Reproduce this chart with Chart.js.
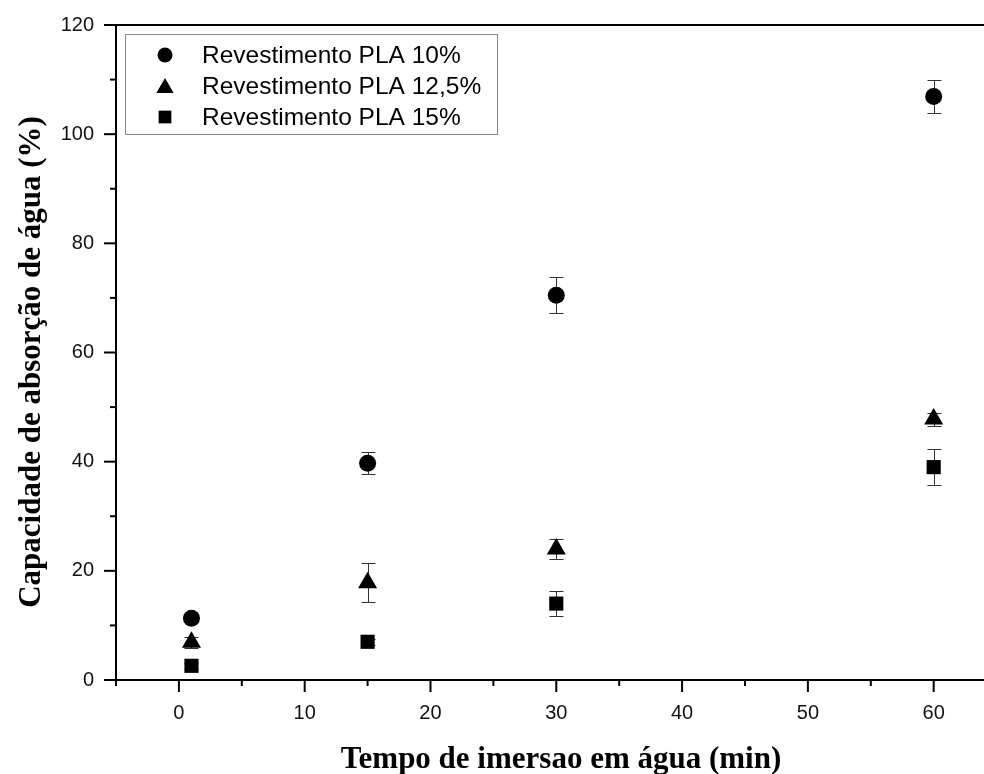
<!DOCTYPE html>
<html>
<head>
<meta charset="utf-8">
<title>Capacidade de absorção de água</title>
<script src="https://cdn.jsdelivr.net/npm/chart.js"></script>
<style>
  html, body { margin: 0; padding: 0; background: #fff; overflow: hidden; }
  canvas { display: block; }
</style>
</head>
<body>
<canvas id="absorcaoChart" width="984" height="774"></canvas>
<script>
// tempos de imersão (min)
const tempos = [1, 15, 30, 60];

const pla10 = [11.3, 39.7, 70.5, 106.9];
const pla10Err = [0.5, 2.0, 3.3, 3.0];

const pla125 = [6.9, 17.8, 24.0, 47.8];
const pla125Err = [1.0, 3.6, 1.8, 1.2];

const pla15 = [2.6, 7.0, 14.0, 39.0];
const pla15Err = [0.5, 0.6, 2.3, 3.3];

const seriesLabels = ["Revestimento PLA 10%", "Revestimento PLA 12,5%", "Revestimento PLA 15%"];

const xTicks = [-5, 0, 5, 10, 15, 20, 25, 30, 35, 40, 45, 50, 55, 60];
const yTicks = [0, 10, 20, 30, 40, 50, 60, 70, 80, 90, 100, 110, 120];

const xTitle = "Tempo de imersao em água (min)";
const yTitle = "Capacidade de absorção de água (%)";

const SERIF = "bold 31px 'Liberation Serif', 'Times New Roman', serif";
const SANS = "'Liberation Sans', Arial, sans-serif";

function el(id) {
  return document.getElementById(id);
}

function toPoints(xs, ys) {
  return xs.map((x, i) => ({ x: x, y: ys[i] }));
}

// barras de erro com traço nas pontas
const errorBars = {
  id: "errorBars",
  beforeDatasetsDraw(chart) {
    const { ctx, scales: { x, y } } = chart;
    ctx.save();
    ctx.strokeStyle = "#333";
    ctx.lineWidth = 1;
    chart.data.datasets.forEach(ds => {
      ds.data.forEach((p, i) => {
        const e = ds.errors[i];
        const px = Math.round(x.getPixelForValue(p.x)) + 0.5;
        const yTop = Math.round(y.getPixelForValue(p.y + e)) + 0.5;
        const yBot = Math.round(y.getPixelForValue(p.y - e)) + 0.5;
        ctx.beginPath();
        ctx.moveTo(px, yTop);
        ctx.lineTo(px, yBot);
        ctx.moveTo(px - 7, yTop);
        ctx.lineTo(px + 7, yTop);
        ctx.moveTo(px - 7, yBot);
        ctx.lineTo(px + 7, yBot);
        ctx.stroke();
      });
    });
    ctx.restore();
  }
};

// marcas dos eixos (maiores e menores), linha superior e títulos
const axisFrame = {
  id: "axisFrame",
  afterDraw(chart) {
    const { ctx, chartArea, scales: { x, y } } = chart;
    ctx.save();
    ctx.strokeStyle = "#000";
    ctx.lineWidth = 2;
    ctx.beginPath();
    ctx.moveTo(chartArea.left - 1, chartArea.top);
    ctx.lineTo(chartArea.right, chartArea.top);
    ctx.stroke();

    xTicks.forEach(v => {
      const px = x.getPixelForValue(v);
      const len = v % 10 === 0 ? 12 : 6;
      ctx.beginPath();
      ctx.moveTo(px, chartArea.bottom);
      ctx.lineTo(px, chartArea.bottom + len);
      ctx.stroke();
    });
    yTicks.forEach(v => {
      const py = y.getPixelForValue(v);
      const len = v % 20 === 0 ? 12 : 6;
      ctx.beginPath();
      ctx.moveTo(chartArea.left, py);
      ctx.lineTo(chartArea.left - len, py);
      ctx.stroke();
    });

    ctx.fillStyle = "#000";
    ctx.font = SERIF;
    ctx.textAlign = "center";
    ctx.textBaseline = "alphabetic";
    ctx.fillText(xTitle, 561, 768);

    ctx.translate(40, 362);
    ctx.rotate(-Math.PI / 2);
    ctx.fillText(yTitle, 0, 0);
    ctx.restore();
  }
};

// legenda dentro da área do gráfico
const boxLegend = {
  id: "boxLegend",
  afterDraw(chart) {
    const { ctx, chartArea } = chart;
    const left = chartArea.left + 9;
    const top = chartArea.top + 9;
    const w = 372;
    const h = 100;
    ctx.save();
    ctx.strokeStyle = "#888";
    ctx.lineWidth = 1;
    ctx.strokeRect(left + 0.5, top + 0.5, w, h);

    ctx.font = "24.5px " + SANS;
    ctx.textBaseline = "middle";
    chart.data.datasets.forEach((ds, i) => {
      const cy = top + 21 + i * 31;
      ctx.fillStyle = "#000";
      ctx.strokeStyle = "#000";
      const r = ds.pointStyle === "triangle" ? 10 : (ds.pointStyle === "rect" ? 9 : 7.5);
      Chart.helpers.drawPoint(ctx, { pointStyle: ds.pointStyle, radius: r, rotation: 0, borderWidth: 0 }, left + 40, cy + (ds.pointStyle === "triangle" ? 2 : 0));
      ctx.fillStyle = "#000";
      ctx.fillText(ds.label, left + 77, cy + 1);
    });
    ctx.restore();
  }
};

new Chart(el("absorcaoChart"), {
  type: "scatter",
  data: {
    datasets: [
      {
        label: seriesLabels[0],
        data: toPoints(tempos, pla10),
        errors: pla10Err,
        pointStyle: "circle",
        pointRadius: 8.5,
        backgroundColor: "#000",
        borderWidth: 0
      },
      {
        label: seriesLabels[1],
        data: toPoints(tempos, pla125),
        errors: pla125Err,
        pointStyle: "triangle",
        pointRadius: 11,
        backgroundColor: "#000",
        borderWidth: 0
      },
      {
        label: seriesLabels[2],
        data: toPoints(tempos, pla15),
        errors: pla15Err,
        pointStyle: "rect",
        pointRadius: 10,
        backgroundColor: "#000",
        borderWidth: 0
      }
    ]
  },
  options: {
    responsive: false,
    animation: false,
    layout: { autoPadding: false, padding: { left: 0, right: 0, top: 25, bottom: 0 } },
    plugins: {
      legend: { display: false },
      tooltip: { enabled: false }
    },
    scales: {
      x: {
        type: "linear",
        min: -5,
        max: 64,
        afterBuildTicks: s => { s.ticks = xTicks.map(v => ({ value: v })); },
        afterFit: s => {
          s.height = 94;
          s.paddingLeft = 0;
          s.paddingRight = 0;
        },
        grid: { display: false, drawTicks: false },
        border: { display: true, color: "#000", width: 2 },
        ticks: {
          padding: 21,
          color: "#111",
          font: { family: SANS, size: 20 },
          autoSkip: false,
          maxRotation: 0,
          callback: v => (v >= 0 && v % 10 === 0 ? String(v) : "")
        },
        title: { display: false }
      },
      y: {
        type: "linear",
        min: 0,
        max: 120,
        afterBuildTicks: s => { s.ticks = yTicks.map(v => ({ value: v })); },
        afterFit: s => {
          s.width = 116;
          s.paddingTop = 0;
          s.paddingBottom = 0;
        },
        grid: { display: false, drawTicks: false },
        border: { display: true, color: "#000", width: 2 },
        ticks: {
          padding: 22,
          color: "#111",
          font: { family: SANS, size: 20 },
          autoSkip: false,
          callback: v => (v % 20 === 0 ? String(v) : "")
        },
        title: { display: false }
      }
    }
  },
  plugins: [errorBars, axisFrame, boxLegend]
});
</script>
</body>
</html>
